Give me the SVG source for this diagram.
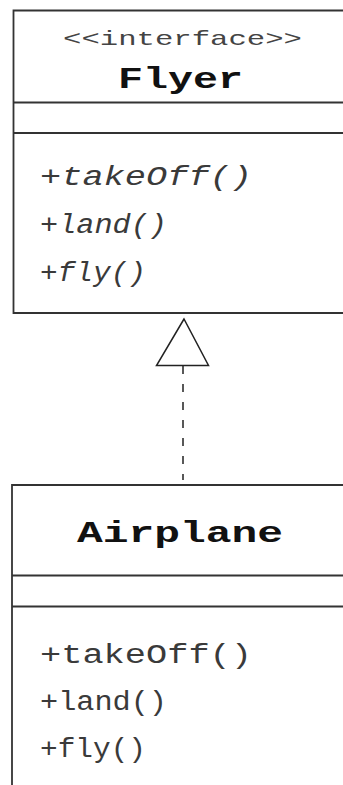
<svg xmlns="http://www.w3.org/2000/svg" width="343" height="785" viewBox="0 0 343 785">
<style>
.box{fill:#fff;stroke:#333;stroke-width:1.8}
.div{stroke:#333;stroke-width:1.8}
text{font-family:"Liberation Mono","Courier New",monospace}
.st{font-size:21px;fill:#444}
.nm{font-size:30px;font-weight:bold;fill:#111}
.m{font-size:27px;fill:#3a3a3a}
.it{font-style:italic}
</style>
<rect width="343" height="785" fill="#fff"/>
<g id="Flyer">
<path class="box" d="M350 10.5 H13.5 V313 H350"/>
<line class="div" x1="13.5" y1="102.5" x2="343" y2="102.5"/>
<line class="div" x1="13.5" y1="133" x2="343" y2="133"/>
<text class="st" x="63" y="45" textLength="239" lengthAdjust="spacingAndGlyphs">&lt;&lt;interface&gt;&gt;</text>
<text class="nm" x="118" y="88" textLength="125" lengthAdjust="spacingAndGlyphs">Flyer</text>
<text class="m it" x="40" y="185" textLength="212" lengthAdjust="spacingAndGlyphs">+takeOff()</text>
<text class="m it" x="40" y="233" textLength="127" lengthAdjust="spacingAndGlyphs">+land()</text>
<text class="m it" x="40" y="281" textLength="106" lengthAdjust="spacingAndGlyphs">+fly()</text>
</g>
<g id="Airplane">
<path class="box" d="M350 485 H12 V790"/>
<line class="div" x1="12" y1="575.5" x2="343" y2="575.5"/>
<line class="div" x1="12" y1="606.5" x2="343" y2="606.5"/>
<text class="nm" x="77" y="542" textLength="206" lengthAdjust="spacingAndGlyphs">Airplane</text>
<text class="m" x="40" y="663" textLength="212" lengthAdjust="spacingAndGlyphs">+takeOff()</text>
<text class="m" x="40" y="710" textLength="127" lengthAdjust="spacingAndGlyphs">+land()</text>
<text class="m" x="40" y="757" textLength="106" lengthAdjust="spacingAndGlyphs">+fly()</text>
</g>
<g id="connectors">
<line x1="183" y1="366" x2="183" y2="480" stroke="#222" stroke-width="1.5" stroke-dasharray="8 10"/>
<polygon points="184,319 156.5,365.5 208.5,365.5" fill="#fff" stroke="#222" stroke-width="1.5"/>
</g>
</svg>
